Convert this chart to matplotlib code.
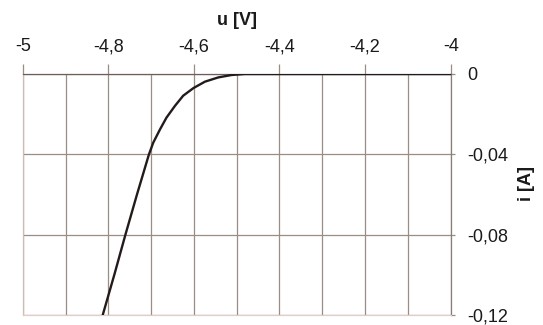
import matplotlib
matplotlib.use("Agg")
import matplotlib.pyplot as plt
from matplotlib.ticker import MultipleLocator, FuncFormatter

# curve
u_volts = [-4.813, -4.786, -4.760, -4.733, -4.719, -4.705, -4.695, -4.679,
           -4.664, -4.644, -4.625, -4.601, -4.574, -4.543, -4.512, -4.481, -4.0]
i_amps = [-0.120, -0.100, -0.080, -0.060, -0.050, -0.040, -0.0342, -0.0275,
          -0.0217, -0.0158, -0.0108, -0.0070, -0.0038, -0.0017, -0.0005, 0.0, 0.0]

x_ticks = [-5, -4.8, -4.6, -4.4, -4.2, -4]
y_ticks = [0, -0.04, -0.08, -0.12]

plt.rcParams['font.family'] = ['Liberation Sans', 'DejaVu Sans']

grid_col = '#9c8c86'
text_col = '#1a1a1a'


def comma(v, pos):
    # decimal comma like the original
    return ('%g' % round(v, 4)).replace('.', ',')


fig = plt.figure(figsize=(5.43, 3.25), dpi=100)
ax = fig.add_axes([22.7 / 543, 1 - 315 / 325, (450.7 - 22.7) / 543, (315 - 74) / 325])

ax.plot(u_volts, i_amps, color='#231a1a', linewidth=1.7, zorder=3,
        solid_joinstyle='round')

ax.set_xlim(-5, -4)
ax.set_ylim(-0.12, 0)

ax.xaxis.set_minor_locator(MultipleLocator(0.1))
ax.set_xticks(x_ticks)
ax.set_yticks(y_ticks)
ax.xaxis.set_major_formatter(FuncFormatter(comma))
ax.yaxis.set_major_formatter(FuncFormatter(comma))

ax.xaxis.tick_top()
ax.yaxis.tick_right()
ax.tick_params(axis='x', which='major', direction='out', length=7, width=0.9,
               color=grid_col, pad=6.5, labelsize=13, labelcolor=text_col)
ax.tick_params(axis='x', which='minor', length=0)
ax.tick_params(axis='y', which='major', direction='out', length=3, width=0.9,
               color=grid_col, pad=9, labelsize=13, labelcolor=text_col)

ax.grid(True, axis='x', which='both', color=grid_col, linewidth=0.9)
ax.grid(True, axis='y', which='major', color=grid_col, linewidth=0.9)
ax.set_axisbelow(True)

for sp in ax.spines.values():
    sp.set_linewidth(0.9)
ax.spines['top'].set_color('#6e5e58')
ax.spines['right'].set_color('#8c7c76')
ax.spines['left'].set_color('#cdbdb6')
ax.spines['bottom'].set_color('#e0cfc8')

ax.set_xlabel('u [V]', fontsize=13, fontweight='bold', color=text_col)
ax.xaxis.set_label_position('top')
ax.xaxis.set_label_coords(0.5, 1.22)
ax.xaxis.label.set_va('center')

ax.set_ylabel('i [A]', fontsize=13, fontweight='bold', color=text_col, rotation=90)
ax.yaxis.set_label_position('right')
ax.yaxis.set_label_coords(1.178, 0.547)
ax.yaxis.label.set_va('center')

fig.savefig('out.png', dpi=100)
